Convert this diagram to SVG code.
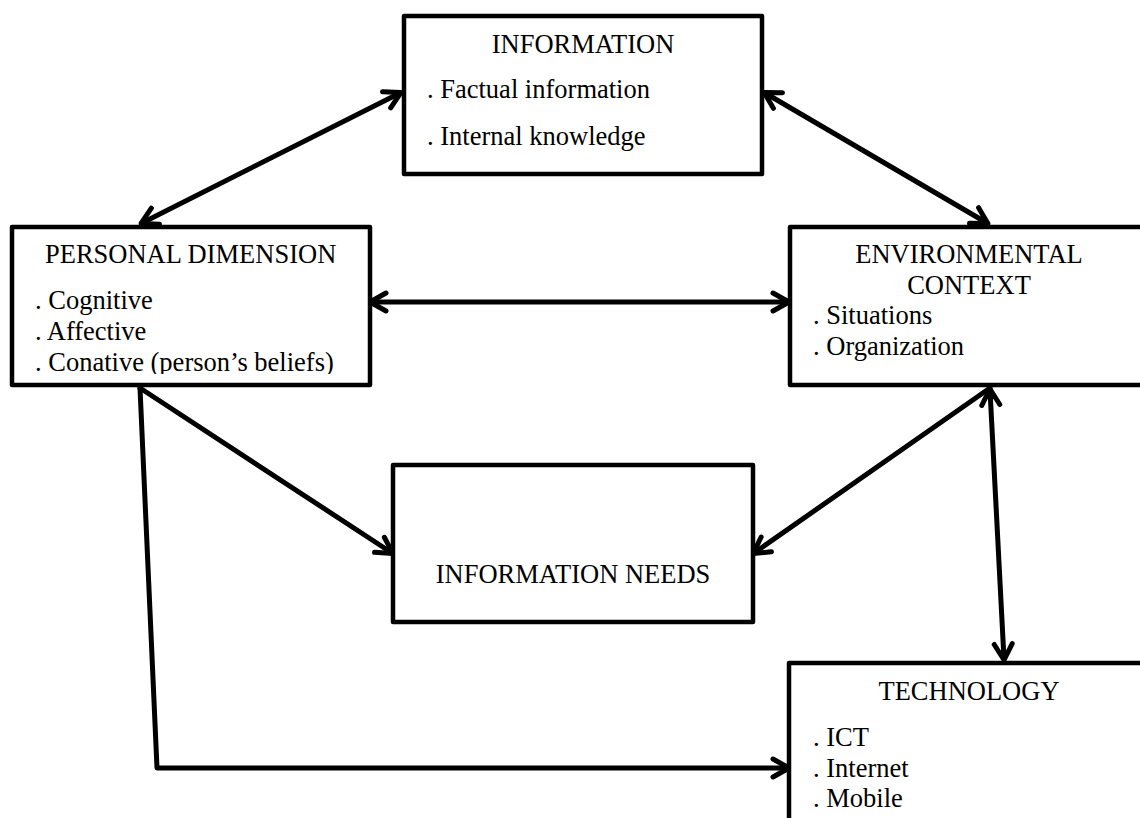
<svg xmlns="http://www.w3.org/2000/svg" width="1140" height="818" viewBox="0 0 1140 818">
<style>
.box{fill:#fff;stroke:#000;stroke-width:4.5;stroke-linejoin:round}
.t{font-family:"Liberation Serif","Times New Roman",serif;font-size:26.5px;fill:#000}
.c{text-anchor:middle}
.con{fill:none;stroke:#000;stroke-width:5;stroke-linecap:round;stroke-linejoin:round}
</style>
<defs>
<marker id="ah" markerUnits="userSpaceOnUse" viewBox="-22 -14 26 28" markerWidth="26" markerHeight="28" refX="-1" refY="0" orient="auto-start-reverse" overflow="visible">
<path d="M-16,-9 L0,0 L-16,9" fill="none" stroke="#000" stroke-width="5" stroke-linecap="round" stroke-linejoin="round"/>
</marker>
<clipPath id="pclip"><rect x="0" y="0" width="400" height="374"/></clipPath>
</defs>
<rect width="1140" height="818" fill="#fff"/>
<g id="connectors">
<line class="con" x1="400" y1="93" x2="142" y2="223" marker-start="url(#ah)" marker-end="url(#ah)"/>
<line class="con" x1="765" y1="93" x2="987" y2="223" marker-start="url(#ah)" marker-end="url(#ah)"/>
<line class="con" x1="371" y1="302" x2="788" y2="302" marker-start="url(#ah)" marker-end="url(#ah)"/>
<line class="con" x1="140" y1="388" x2="392" y2="553" marker-end="url(#ah)"/>
<line class="con" x1="990" y1="388" x2="754" y2="553" marker-end="url(#ah)"/>
<line class="con" x1="990" y1="390" x2="1004" y2="659" marker-start="url(#ah)" marker-end="url(#ah)"/>
<polyline class="con" points="140,388 157,768 788,768" marker-end="url(#ah)"/>
</g>
<g id="information">
<rect class="box" x="404" y="16" width="358" height="158"/>
<text class="t c" x="583" y="53">INFORMATION</text>
<text class="t" x="427" y="98">. Factual information</text>
<text class="t" x="427" y="145">. Internal knowledge</text>
</g>
<g id="personal">
<rect class="box" x="12" y="227" width="358" height="158"/>
<g clip-path="url(#pclip)">
<text class="t" x="45" y="263">PERSONAL DIMENSION</text>
<text class="t" x="35" y="309">. Cognitive</text>
<text class="t" x="35" y="340">. Affective</text>
<text class="t" x="35" y="371">. Conative (person’s beliefs)</text>
</g>
</g>
<g id="environmental">
<rect class="box" x="790" y="227" width="400" height="158"/>
<text class="t c" x="969" y="263">ENVIRONMENTAL</text>
<text class="t c" x="969" y="294">CONTEXT</text>
<text class="t" x="813" y="324">. Situations</text>
<text class="t" x="813" y="355">. Organization</text>
</g>
<g id="information-needs">
<rect class="box" x="393" y="465" width="360" height="157"/>
<text class="t c" x="573" y="583">INFORMATION NEEDS</text>
</g>
<g id="technology">
<rect class="box" x="789" y="663" width="400" height="200"/>
<text class="t c" x="969" y="700">TECHNOLOGY</text>
<text class="t" x="813" y="746">. ICT</text>
<text class="t" x="813" y="777">. Internet</text>
<text class="t" x="813" y="807">. Mobile</text>
</g>
</svg>
